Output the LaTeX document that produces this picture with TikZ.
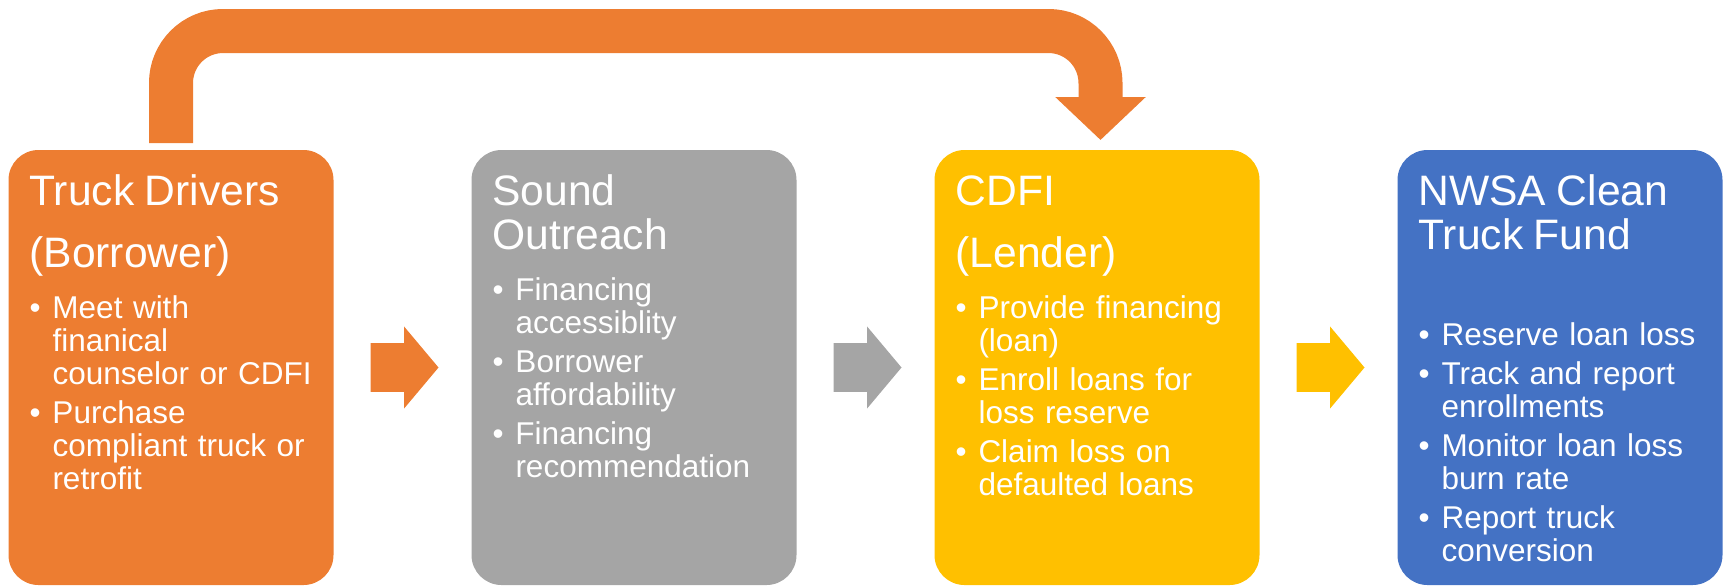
\documentclass[tikz,border=0pt]{standalone}
\usepackage{fontspec}
\setmainfont{Liberation Sans}
\usetikzlibrary{positioning,shapes,arrows,arrows.meta}

\definecolor{drvorange}{HTML}{ED7D31}
\definecolor{sogray}{HTML}{A5A5A5}
\definecolor{cdfiyellow}{HTML}{FFC000}
\definecolor{fundblue}{HTML}{4472C4}

\newcommand{\ttl}{\fontsize{21.3pt}{22pt}\selectfont}
\newcommand{\bul}{\par\vspace{3pt}\hangindent=11.5pt\hangafter=1\noindent\makebox[11.5pt][l]{\textbullet}}

\begin{document}
\begin{tikzpicture}[
		node distance=69pt,
		stage/.style={fill,rounded corners=15pt,text=white,align=left,text width=141.5pt,inner xsep=10.5pt,inner ysep=0pt,outer sep=0pt,text height=27.5pt,text depth=190pt,font=\fontsize{15.75pt}{16.5pt}\selectfont},
		chevron/.style={single arrow,minimum height=34pt,inner xsep=0pt,inner ysep=12pt,text height=0pt,text depth=0pt,single arrow head extend=8.25pt,single arrow tip angle=100,outer sep=0pt},
		loopline/.style={draw=drvorange,line width=22pt,rounded corners=26pt,-{Triangle[width=44pt,length=21.5pt]}}
		]
		\useasboundingbox (0,0) rectangle (862.5pt,-293pt);
		\node[stage,fill=drvorange,anchor=north west] (drivers) at (4.25pt,-75pt)
		{
			{\ttl Truck Drivers\par\vspace{9pt}(Borrower)\par}
			\vspace{6pt}
			\bul Meet with\newline finanical\newline counselor or CDFI\par
			\bul Purchase\newline compliant truck or\newline retrofit\par
		};
		\node[stage,fill=sogray,right=of drivers] (outreach)
		{
			{\ttl Sound\newline Outreach\par}
			\vspace{6pt}
			\bul Financing\newline accessiblity\par
			\bul Borrower\newline affordability\par
			\bul Financing\newline recommendation\par
		};
		\node[stage,fill=cdfiyellow,right=of outreach] (cdfi)
		{
			{\ttl CDFI\par\vspace{9pt}(Lender)\par}
			\vspace{6pt}
			\bul Provide financing\newline (loan)\par
			\bul Enroll loans for\newline loss reserve\par
			\bul Claim loss on\newline defaulted loans\par
		};
		\node[stage,fill=fundblue,right=of cdfi] (fund)
		{
			{\ttl NWSA Clean\newline Truck Fund\par}
			\vspace{28.5pt}
			\bul Reserve loan loss\par
			\bul Track and report\newline enrollments\par
			\bul Monitor loan loss\newline burn rate\par
			\bul Report truck\newline conversion\par
		};
		\node[chevron,fill=drvorange,right=18.5pt of drivers] (arr1) {};
		\node[chevron,fill=sogray,right=18.5pt of outreach] (arr2) {};
		\node[chevron,fill=cdfiyellow,right=18.5pt of cdfi] (arr3) {};
		\draw[loopline] ([yshift=3.5pt]drivers.north) -- ++(0,56pt) -| ([xshift=1.75pt,yshift=5pt]cdfi.north);
	\end{tikzpicture}
\end{document}
